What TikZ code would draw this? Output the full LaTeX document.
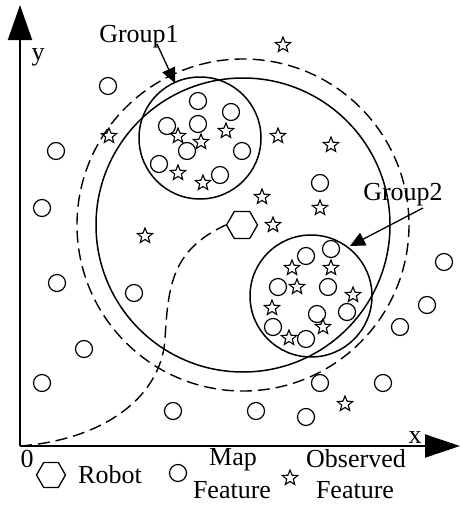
\documentclass[tikz,border=0pt]{standalone}
\usepackage{fontspec}
\setmainfont{Liberation Serif}
\usetikzlibrary{shapes.geometric,arrows.meta}
\begin{document}
\begin{tikzpicture}[x=1pt,y=-1pt,
  every node/.style={font=\fontsize{26}{33}\selectfont},
  mapf/.style={circle,draw,line width=1.2pt,minimum size=17pt,inner sep=0pt},
  obsf/.style={star,star points=5,star point ratio=2.3,draw,line width=1.1pt,minimum size=16pt,inner sep=0pt},
  robotshape/.style={regular polygon,regular polygon sides=6,draw,line width=1.3pt,minimum size=31pt,inner sep=0pt},
  axis/.style={line width=2pt},
  ring/.style={line width=1.5pt},
  dashring/.style={line width=1.4pt,dash pattern=on 12pt off 6pt},
  pointer/.style={line width=1.3pt,-{Triangle[length=15pt,width=14pt]}},
  lbl/.style={anchor=base,inner sep=0pt}]
\useasboundingbox (0,0) rectangle (460,506);
% axes
\coordinate (O) at (20,446);
\coordinate (ytip) at (20,5);
\coordinate (xtip) at (460,446);
\draw[axis,-{Triangle[length=35pt,width=24pt]}] (O) -- (ytip);
\draw[axis,-{Triangle[length=35pt,width=23pt]}] (O) -- (xtip);
\node[lbl] (ylab) at (38,60) {y};
\node[lbl] (xlab) at (415,443) {x};
\node[lbl] (zero) at (27,467) {0};
% big circles
\coordinate (C) at (243,225);
\draw[ring] (C) circle[radius=147];
\draw[dashring] (C) circle[radius=166];
% groups
\coordinate (G1) at (200,138);
\coordinate (G2) at (311,296);
\draw[ring] (G1) circle[radius=61];
\draw[ring] (G2) circle[radius=61];
% robot
\node[robotshape] (robot) at (242,225) {};
% trajectory
\draw[dashring] (O) .. controls (100,440) and (160,400) .. (165,340)
  .. controls (168,285) and (172,250) .. (robot.west);
% group labels
\node[lbl] (g1lab) at (139,42) {Group1};
\node[lbl] (g2lab) at (403,200) {Group2};
\coordinate (g1a) at (157,44);
\coordinate (g1b) at (175,83);
\coordinate (g2a) at (423,208);
\coordinate (g2b) at (350,246);
\draw[pointer] (g1a) -- (g1b);
\draw[pointer] (g2a) -- (g2b);
% map features
\foreach \p [count=\i] in {(108,86),(56,151),(42,208),
  (198,101),(231,112),(167,126),(198,124),(187,151),(242,151),(159,164),(220,175),
  (320,183),
  (306,256),(331,249),(278,287),(328,287),(317,314),(347,312),(273,327),(306,339),
  (444,262),(427,305),(400,327),(320,383),(383,383),(256,411),(306,417),
  (57,283),(134,293),(84,349),(42,383),(173,411)}
  \node[mapf] (m\i) at \p {};
% observed features
\foreach \p [count=\i] in {(109,136),(145,236),
  (178,136),(201,142),(226,131),(178,173),(203,183),
  (262,197),(283,45),(278,136),(331,145),(320,208),(273,225),
  (292,268),(331,268),(297,287),(353,295),(272,308),(323,327),(289,338),
  (345,404)}
  \node[obsf] (s\i) at \p {};
% legend
\node[robotshape,minimum size=29pt] (legrobot) at (51,475) {};
\node[lbl] (legrobottext) at (110,483) {Robot};
\node[mapf] (legmap) at (178,473) {};
\node[lbl] (legmaptext1) at (233,465) {Map};
\node[lbl] (legmaptext2) at (232,498) {Feature};
\node[obsf] (legobs) at (290,478) {};
\node[lbl] (legobstext1) at (356,467) {Observed};
\node[lbl] (legobstext2) at (355,498) {Feature};
\end{tikzpicture}
\end{document}
